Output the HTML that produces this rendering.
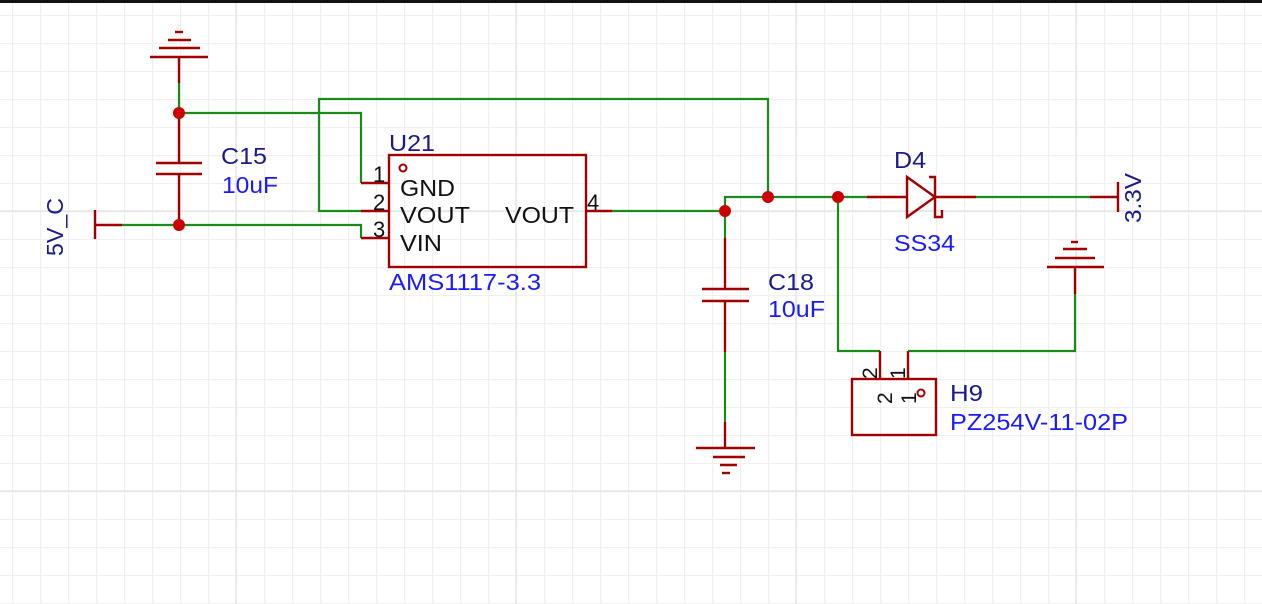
<!DOCTYPE html>
<html><head><meta charset="utf-8"><style>
html,body{margin:0;padding:0;background:#fff;width:1262px;height:604px;overflow:hidden}
svg{display:block}
text{font-family:"Liberation Sans",Arial,sans-serif}
</style></head><body>
<svg width="1262" height="604" viewBox="0 0 1262 604" xmlns="http://www.w3.org/2000/svg">
<defs>
<pattern id="g" x="12" y="15" width="28" height="28" patternUnits="userSpaceOnUse">
<path d="M0.5 0V28M0 0.5H28" stroke="#f0f0f0" stroke-width="1.3" fill="none"/>
</pattern>
</defs>
<rect width="1262" height="604" fill="url(#g)"/>
<g stroke="#e6e6e6" stroke-width="1.5">
<line x1="236" y1="0" x2="236" y2="604"/><line x1="516" y1="0" x2="516" y2="604"/><line x1="796" y1="0" x2="796" y2="604"/><line x1="1076" y1="0" x2="1076" y2="604"/>
<line x1="0" y1="211" x2="1262" y2="211"/><line x1="0" y1="491" x2="1262" y2="491"/>
</g>
<rect x="0" y="0" width="1262" height="3" fill="#111"/>

<g stroke="#1a8a1a" stroke-width="2.2" fill="none">
<polyline points="179,83 179,113 361,113 361,183"/>
<polyline points="122,225 361,225 361,238"/>
<polyline points="361,211 319,211 319,99 768,99 768,197"/>
<polyline points="612,211 725,211 725,197 867,197"/>
<polyline points="725,211 725,238"/>
<polyline points="725,352 725,422"/>
<polyline points="976,197 1090,197"/>
<polyline points="838,197 838,351 880,351"/>
<polyline points="908,351 1075,351 1075,294"/>
</g>

<g stroke="#a00000" stroke-width="2.4" fill="none">
<line x1="179" y1="57" x2="179" y2="83"/>
<line x1="150" y1="57" x2="208" y2="57"/><line x1="159" y1="48" x2="200" y2="48"/><line x1="168" y1="40" x2="191" y2="40"/><line x1="175" y1="32" x2="183" y2="32"/>
<line x1="179" y1="113" x2="179" y2="163"/><line x1="156" y1="163" x2="202" y2="163"/><line x1="156" y1="174" x2="202" y2="174"/><line x1="179" y1="174" x2="179" y2="225"/>
<line x1="95" y1="210" x2="95" y2="239"/><line x1="95" y1="225" x2="122" y2="225"/>
<rect x="389" y="155" width="197" height="112"/>
<line x1="361" y1="183" x2="389" y2="183"/><line x1="361" y1="211" x2="389" y2="211"/><line x1="361" y1="238" x2="389" y2="238"/><line x1="586" y1="211" x2="612" y2="211"/>
<circle cx="403" cy="168" r="3.5" stroke-width="2"/>
<line x1="725" y1="238" x2="725" y2="289"/><line x1="702" y1="289" x2="749" y2="289"/><line x1="702" y1="301" x2="749" y2="301"/><line x1="725" y1="301" x2="725" y2="352"/>
<line x1="725" y1="422" x2="725" y2="448"/>
<line x1="696" y1="448" x2="755" y2="448"/><line x1="713" y1="457" x2="745" y2="457"/><line x1="720" y1="465" x2="737" y2="465"/><line x1="722" y1="473" x2="730" y2="473"/>
<line x1="867" y1="197" x2="907" y2="197"/>
<polygon points="907,177 907,217 935,197"/>
<polyline points="929,177 935,177 935,217 942,217 942,210"/>
<line x1="935" y1="197" x2="976" y2="197"/>
<line x1="1090" y1="197" x2="1118" y2="197"/><line x1="1118" y1="182" x2="1118" y2="212"/>
<line x1="1075" y1="267" x2="1075" y2="294"/>
<line x1="1047" y1="267" x2="1104" y2="267"/><line x1="1055" y1="258" x2="1095" y2="258"/><line x1="1063" y1="249" x2="1087" y2="249"/><line x1="1071" y1="242" x2="1078" y2="242"/>
<rect x="852" y="379" width="84" height="56"/>
<line x1="880" y1="351" x2="880" y2="379"/><line x1="908" y1="351" x2="908" y2="379"/>
<circle cx="921" cy="393" r="3.5" stroke-width="2"/>
</g>

<g fill="#cc0000">
<circle cx="179" cy="113" r="6"/><circle cx="179" cy="225" r="6"/>
<circle cx="725" cy="211" r="6"/><circle cx="768" cy="197" r="6"/><circle cx="838" cy="197" r="6"/>
</g>

<g font-size="23">
<text x="389" y="151" fill="#1a1a8a" textLength="46" lengthAdjust="spacingAndGlyphs">U21</text>
<text x="221" y="164" fill="#1a1a8a" textLength="46" lengthAdjust="spacingAndGlyphs">C15</text>
<text x="222" y="193" fill="#1a1aff" textLength="56" lengthAdjust="spacingAndGlyphs">10uF</text>
<text x="400" y="196" fill="#111" textLength="55" lengthAdjust="spacingAndGlyphs">GND</text>
<text x="400" y="223" fill="#111" textLength="70" lengthAdjust="spacingAndGlyphs">VOUT</text>
<text x="400" y="251" fill="#111" textLength="42" lengthAdjust="spacingAndGlyphs">VIN</text>
<text x="505" y="223" fill="#111" textLength="69" lengthAdjust="spacingAndGlyphs">VOUT</text>
<text x="373" y="182" fill="#111" font-size="22">1</text>
<text x="373" y="210" fill="#111" font-size="22">2</text>
<text x="373" y="237" fill="#111" font-size="22">3</text>
<text x="587" y="210" fill="#111" font-size="22">4</text>
<text x="389" y="290" fill="#1a1aff" textLength="152" lengthAdjust="spacingAndGlyphs">AMS1117-3.3</text>
<text transform="translate(63,256) rotate(-90)" fill="#1a1a8a" textLength="58" lengthAdjust="spacingAndGlyphs">5V_C</text>
<text x="768" y="290" fill="#1a1a8a" textLength="46" lengthAdjust="spacingAndGlyphs">C18</text>
<text x="768" y="317" fill="#1a1aff" textLength="57" lengthAdjust="spacingAndGlyphs">10uF</text>
<text x="894" y="168" fill="#1a1a8a" textLength="32" lengthAdjust="spacingAndGlyphs">D4</text>
<text x="894" y="251" fill="#1a1aff" textLength="61" lengthAdjust="spacingAndGlyphs">SS34</text>
<text transform="translate(1141,223) rotate(-90)" fill="#1a1a8a" textLength="50" lengthAdjust="spacingAndGlyphs">3.3V</text>
<text x="950" y="401" fill="#1a1a8a" textLength="33" lengthAdjust="spacingAndGlyphs">H9</text>
<text x="950" y="430" fill="#1a1aff" textLength="178" lengthAdjust="spacingAndGlyphs">PZ254V-11-02P</text>
<text transform="translate(877,379) rotate(-90)" fill="#111" font-size="21">2</text>
<text transform="translate(905,379) rotate(-90)" fill="#111" font-size="21">1</text>
<text transform="translate(892,404) rotate(-90)" fill="#111" font-size="21">2</text>
<text transform="translate(916,404) rotate(-90)" fill="#111" font-size="21">1</text>
</g>
</svg>
</body></html>
